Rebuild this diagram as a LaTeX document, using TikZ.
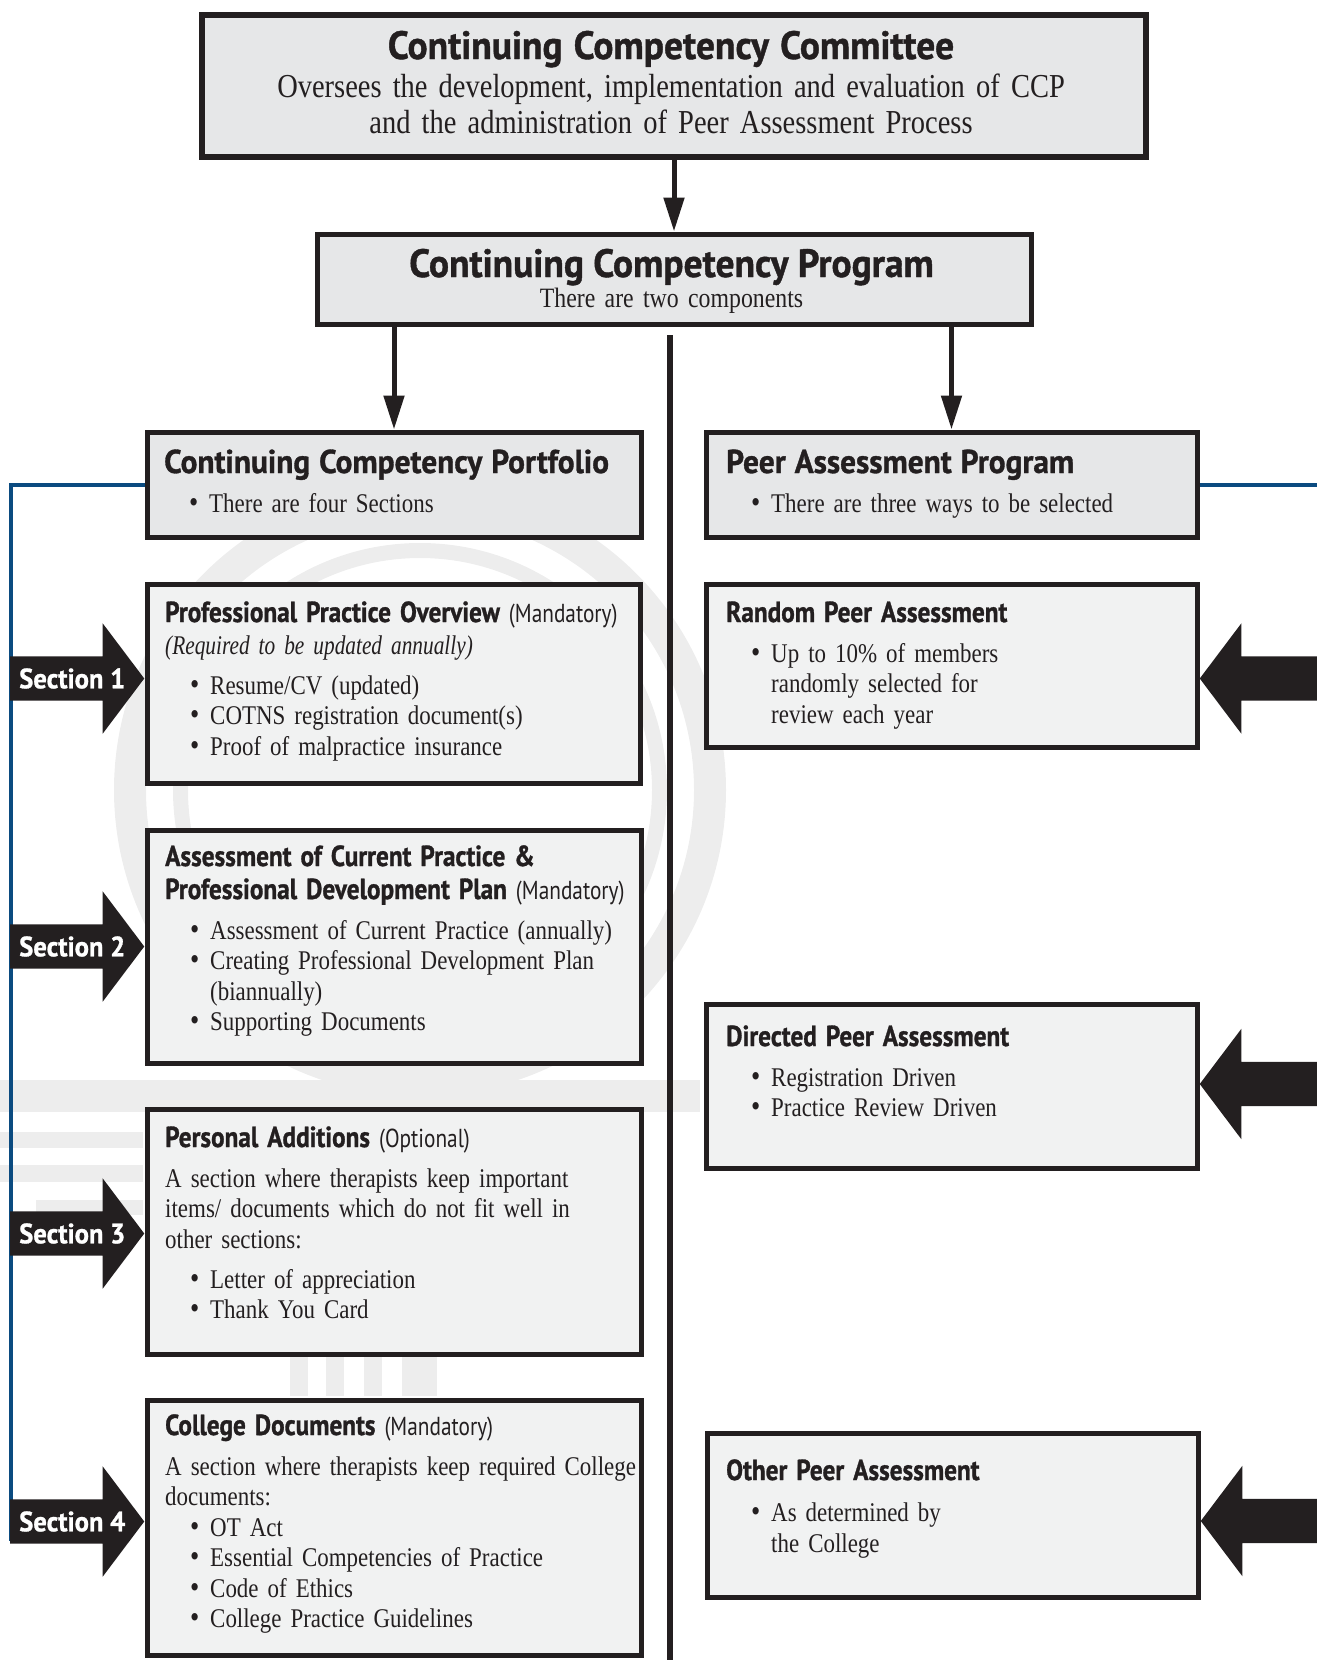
\documentclass[tikz,border=0pt]{standalone}
\usepackage{fontspec}
\setmainfont{Liberation Serif}[FakeStretch=0.85,WordSpace=0.8]
\newfontfamily\ccItalFont{Liberation Serif}[FakeStretch=0.79,WordSpace=0.8]
\newfontfamily\ccTitleFont{PT Sans}[FakeStretch=0.95,BoldFeatures={FakeBold=1}]
\newfontfamily\ccHeadFont{PT Sans}[FakeStretch=0.87,BoldFeatures={FakeBold=1}]
\newfontfamily\ccNoteFont{PT Sans}[FakeStretch=0.82]
\usepackage{tikz}
\usetikzlibrary{arrows.meta}
\usetikzlibrary{shapes.arrows}
\usepackage{xcolor}

\definecolor{ink}{HTML}{231F20}
\definecolor{darkfill}{HTML}{E6E7E8}
\definecolor{lightfill}{HTML}{F1F2F2}
\definecolor{markgray}{HTML}{EDEDED}
\definecolor{rulebl}{HTML}{0B4B80}

\newcommand{\toptitle}[1]{{\ccTitleFont\bfseries\fontsize{39.5}{36}\selectfont #1}}
\newcommand{\midtitle}[1]{{\ccTitleFont\bfseries\fontsize{33}{30.5}\selectfont #1}}
\newcommand{\boxhead}[1]{{\ccHeadFont\bfseries\fontsize{29}{30.5}\selectfont #1}}
\newcommand{\boxnote}[1]{{\ccNoteFont\fontsize{26}{30.5}\selectfont #1}}
\newcommand{\bitem}[1]{\hspace*{25pt}\makebox[20pt][l]{\fontsize{31}{30.5}\selectfont\textbullet}#1}
\newcommand{\bcont}[1]{\hspace*{45pt}#1}

\begin{document}
\begin{tikzpicture}[x=1pt,y=-1pt,
  bigbox/.style={draw=ink,line width=6pt,fill=darkfill,anchor=north west,inner sep=0pt},
  midbox/.style={draw=ink,line width=5pt,fill=darkfill,anchor=north west,inner sep=0pt},
  lowbox/.style={draw=ink,line width=5pt,fill=lightfill,anchor=north west,inner sep=0pt},
  toptext/.style={anchor=base,inner sep=0pt,text width=930pt,align=center,text=ink,font=\fontsize{33.5}{36}\selectfont},
  boxtext/.style={anchor=base west,inner sep=0pt,text width=490pt,align=left,text=ink,font=\fontsize{27}{30.5}\selectfont},
  flow/.style={draw=ink,line width=5pt,-{Triangle[length=34pt,width=20pt]}},
  spine/.style={draw=ink,line width=5.5pt},
  blueline/.style={draw=rulebl,line width=4pt},
  secarrow/.style={single arrow,fill=ink,minimum height=134pt,single arrow head extend=33pt,
    single arrow tip angle=106,inner xsep=0pt,inner ysep=22pt,text height=0pt,text depth=0pt,anchor=tip},
  selarrow/.style={secarrow,shape border rotate=180,minimum height=126pt},
  seclabel/.style={anchor=west,inner sep=0pt,text=white,font=\ccTitleFont\bfseries\fontsize{28}{28}\selectfont}]
  \useasboundingbox (0,0) rectangle (1317,1660);

  % faint logo behind the boxes
  \fill[markgray,even odd rule] (420,790) circle (306) circle (274);
  \fill[markgray,even odd rule] (420,790) circle (247) circle (232);
  \fill[markgray] (0,1080) rectangle (700,1112);
  \fill[markgray] (0,1132) rectangle (143,1148);
  \fill[markgray] (0,1165) rectangle (143,1182);
  \fill[markgray] (36,1200) rectangle (143,1215);
  \fill[markgray] (290,1353) rectangle (308,1396);
  \fill[markgray] (326,1353) rectangle (344,1396);
  \fill[markgray] (364,1353) rectangle (382,1396);
  \fill[markgray] (402,1353) rectangle (437,1396);

  \coordinate (ruleend) at (11,1541);
  \coordinate (rightrule) at (1317,0);
  \coordinate (spinetop) at (670,335);
  \coordinate (spinebot) at (670,1660);
  \draw[spine] (spinetop) -- (spinebot);

  \node[bigbox,minimum width=944pt,minimum height=142pt] (committee) at (199,12) {};
  \node[midbox,minimum width=714pt,minimum height=90pt] (ccp) at (314.5,231.5) {};
  \node[midbox,minimum width=494pt,minimum height=105pt] (portfolio) at (144.5,429.5) {};
  \node[midbox,minimum width=491pt,minimum height=105pt] (peerprog) at (703.5,429.5) {};
  \draw[blueline] (portfolio.west) -| (ruleend);
  \draw[blueline] (peerprog.east) -- (peerprog.east -| rightrule);
  \node[midbox,minimum width=494pt,minimum height=105pt] at (portfolio.north west) {};
  \node[midbox,minimum width=491pt,minimum height=105pt] at (peerprog.north west) {};
  \node[lowbox,minimum width=493pt,minimum height=199pt] (overview) at (144.5,581.5) {};
  \node[lowbox,minimum width=494pt,minimum height=233pt] (current) at (144.5,827.5) {};
  \node[lowbox,minimum width=494pt,minimum height=245pt] (personal) at (144.5,1106.5) {};
  \node[lowbox,minimum width=494pt,minimum height=255pt] (college) at (144.5,1397.5) {};
  \node[lowbox,minimum width=491pt,minimum height=163pt] (random) at (703.5,581.5) {};
  \node[lowbox,minimum width=491pt,minimum height=164pt] (directed) at (703.5,1001.5) {};
  \node[lowbox,minimum width=491pt,minimum height=164pt] (other) at (704.5,1430.5) {};

  \draw[flow] (committee.south) -- (ccp.north);
  \draw[flow] (ccp.south -| portfolio.north) -- (portfolio.north);
  \draw[flow] (ccp.south -| peerprog.north) -- (peerprog.north);

  \node[secarrow] (sec1) at ([yshift=5pt]overview.west) {};
  \node[secarrow] (sec2) at (current.west) {};
  \node[secarrow] (sec3) at ([yshift=-2pt]personal.west) {};
  \node[secarrow] (sec4) at ([yshift=6pt]college.west) {};
  \node[seclabel] (sec1lbl) at ([xshift=9pt]sec1.tail) {Section 1};
  \node[seclabel] (sec2lbl) at ([xshift=9pt]sec2.tail) {Section 2};
  \node[seclabel] (sec3lbl) at ([xshift=9pt]sec3.tail) {Section 3};
  \node[seclabel] (sec4lbl) at ([xshift=9pt]sec4.tail) {Section 4};

  \node[selarrow] (randarr) at ([yshift=-13pt]random.east) {};
  \node[selarrow] (dirarr) at ([yshift=2pt]directed.east) {};
  \node[selarrow] (othrarr) at ([yshift=-6pt]other.east) {};

  \node[toptext] (committeetxt) at (671,59) {\toptitle{Continuing Competency Committee}\\[2pt]
    Oversees the development, implementation and evaluation of CCP\\
    and the administration of Peer Assessment Process};
  \node[toptext,font=\fontsize{28}{30}\selectfont] (ccptxt) at (671.5,277) {\toptitle{Continuing Competency Program}\\
    There are two components};

  \node[boxtext] (portfoliotxt) at (164,473) {\midtitle{Continuing Competency Portfolio}\\[8.5pt]
    \bitem{There are four Sections}};
  \node[boxtext] (peerprogtxt) at (726,473) {\midtitle{Peer Assessment Program}\\[8.5pt]
    \bitem{There are three ways to be selected}};

  \node[boxtext] (overviewtxt) at (165,622) {\boxhead{Professional Practice Overview} \boxnote{(Mandatory)}\\[1.5pt]
    {\ccItalFont\itshape(Required to be updated annually)}\\[9.5pt]
    \bitem{Resume/CV (updated)}\\
    \bitem{COTNS registration document(s)}\\
    \bitem{Proof of malpractice insurance}};
  \node[boxtext] (currenttxt) at (165,866) {\boxhead{Assessment of Current Practice \&}\\[2.5pt]
    \boxhead{Professional Development Plan} \boxnote{(Mandatory)}\\[9.5pt]
    \bitem{Assessment of Current Practice (annually)}\\
    \bitem{Creating Professional Development Plan}\\
    \bcont{(biannually)}\\
    \bitem{Supporting Documents}};
  \node[boxtext] (personaltxt) at (165,1147) {\boxhead{Personal Additions} \boxnote{(Optional)}\\[9.5pt]
    A section where therapists keep important\\
    items/ documents which do not fit well in\\
    other sections:\\[9.5pt]
    \bitem{Letter of appreciation}\\
    \bitem{Thank You Card}};
  \node[boxtext] (collegetxt) at (165,1435) {\boxhead{College Documents} \boxnote{(Mandatory)}\\[9.5pt]
    A section where therapists keep required College\\
    documents:\\
    \bitem{OT Act}\\
    \bitem{Essential Competencies of Practice}\\
    \bitem{Code of Ethics}\\
    \bitem{College Practice Guidelines}};

  \node[boxtext] (randomtxt) at (726,622) {\boxhead{Random Peer Assessment}\\[9.5pt]
    \bitem{Up to 10\% of members}\\
    \bcont{randomly selected for}\\
    \bcont{review each year}};
  \node[boxtext] (directedtxt) at (726,1046) {\boxhead{Directed Peer Assessment}\\[9.5pt]
    \bitem{Registration Driven}\\
    \bitem{Practice Review Driven}};
  \node[boxtext] (othertxt) at (726,1480) {\boxhead{Other Peer Assessment}\\[11pt]
    \bitem{As determined by}\\
    \bcont{the College}};
\end{tikzpicture}
\end{document}
